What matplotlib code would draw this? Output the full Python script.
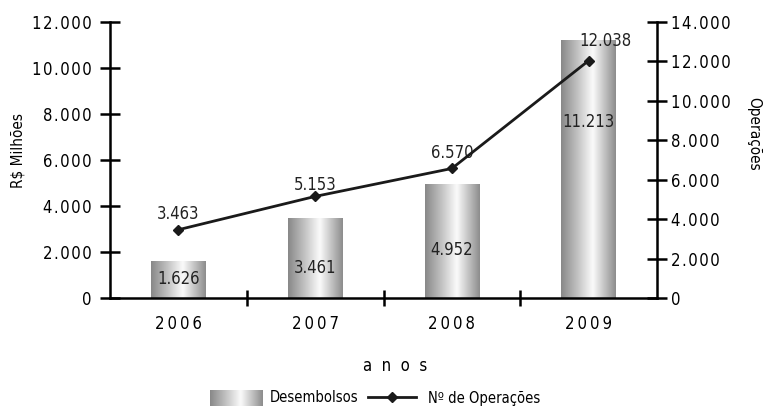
import numpy as np
import matplotlib
matplotlib.use('Agg')
import matplotlib.pyplot as plt
from matplotlib.colors import LinearSegmentedColormap
from matplotlib.lines import Line2D

plt.rcParams['font.family'] = ['DejaVu Sans']
plt.rcParams['font.stretch'] = 'condensed'

anos = ['2006', '2007', '2008', '2009']
desembolsos = [1626, 3461, 4952, 11213]
operacoes = [3463, 5153, 6570, 12038]

HS = '\u200a'  # hair space for the letter-spaced labels


def fmt(v):
    return f'{v:,}'.replace(',', '.')


def spaced(s, sep=HS):
    return sep.join(s)


# metallic cylinder look for the bars
cmap = LinearSegmentedColormap.from_list(
    'cyl', [(0.0, '#888888'), (0.3, '#c2c2c2'), (0.58, '#fbfbfb'), (1.0, '#8c8c8c')])
grad = np.linspace(0, 1, 256).reshape(1, -1)

fig = plt.figure(figsize=(7.65, 4.07), dpi=100)
ax = fig.add_axes([110 / 765, 1 - 298 / 407, 547 / 765, 276 / 407])
ax2 = ax.twinx()

x = np.arange(len(anos))
bars = ax.bar(x, desembolsos, width=0.4, color='none', edgecolor='none')
for b in bars:
    x0, y0 = b.get_x(), b.get_y()
    im = ax.imshow(grad, cmap=cmap, aspect='auto', interpolation='bicubic',
                   extent=[x0, x0 + b.get_width(), y0, y0 + b.get_height()], zorder=1)
    im.set_clip_path(b)

ax.set_xlim(-0.5, 3.5)
ax.set_ylim(0, 12000)
ax2.set_ylim(0, 14000)

ax.set_yticks(range(0, 12001, 2000))
ax.set_yticklabels([spaced(fmt(v)) for v in range(0, 12001, 2000)])
ax2.set_yticks(range(0, 14001, 2000))
ax2.set_yticklabels([spaced(fmt(v)) for v in range(0, 14001, 2000)])

ax.set_xticks(x)
ax.set_xticklabels([spaced(a, '\u2009') for a in anos])
ax.set_xticks([0.5, 1.5, 2.5], minor=True)
ax.tick_params(axis='x', which='major', length=0, pad=12, labelsize=12)
ax.tick_params(axis='x', which='minor', length=11, width=1.8, direction='inout')
ax.tick_params(axis='y', length=14, width=1.8, direction='inout', labelsize=12, pad=6)
ax2.tick_params(axis='y', length=14, width=1.8, direction='inout', labelsize=12, pad=3)

for a in (ax, ax2):
    a.spines['top'].set_visible(False)
    for s in ('left', 'right', 'bottom'):
        a.spines[s].set_linewidth(1.8)
ax.spines['right'].set_visible(False)
ax2.spines['left'].set_visible(False)
ax2.spines['bottom'].set_visible(False)

ax2.plot(x, operacoes, color='#1a1a1a', lw=2, marker='D', ms=5.5, zorder=5)

# value labels inside the bars
bar_label_y = [830, 1300, 2090, 7650]
for xi, v, ly in zip(x, desembolsos, bar_label_y):
    ax.text(xi, ly, fmt(v), ha='center', va='center', fontsize=12, color='#222222', zorder=3)

# value labels over the line points (offsets in points)
offsets = [(0, 11), (0, 8), (0, 11), (12, 14)]
for xi, v, off in zip(x, operacoes, offsets):
    ax2.annotate(fmt(v), (xi, v), xytext=off, textcoords='offset points',
                 ha='center', va='center', fontsize=12, color='#222222')

fig.text(18 / 765, 1 - 150 / 407, 'R$ Milhões', rotation=90, ha='center', va='center', fontsize=11)
fig.text(754 / 765, 1 - 134 / 407, 'Operações', rotation=-90, ha='center', va='center', fontsize=11)
fig.text(395 / 765, 1 - 366 / 407, 'a  n  o  s', ha='center', va='center', fontsize=12)

# legend
lax = fig.add_axes([210 / 765, 1 - 406 / 407, 53 / 765, 16 / 407])
lax.imshow(grad, cmap=cmap, aspect='auto', interpolation='bicubic')
lax.axis('off')
fig.text(270 / 765, 1 - 398 / 407, 'Desembolsos', ha='left', va='center', fontsize=10.5)
fig.add_artist(Line2D([368 / 765, 416 / 765], [1 - 397 / 407] * 2, color='#1a1a1a', lw=2,
                      transform=fig.transFigure))
fig.add_artist(Line2D([392 / 765], [1 - 397 / 407], color='#1a1a1a', marker='D', ms=5.5,
                      transform=fig.transFigure))
fig.text(428 / 765, 1 - 398 / 407, 'Nº de Operações', ha='left', va='center', fontsize=10.5)

fig.savefig('out.png', dpi=100)
